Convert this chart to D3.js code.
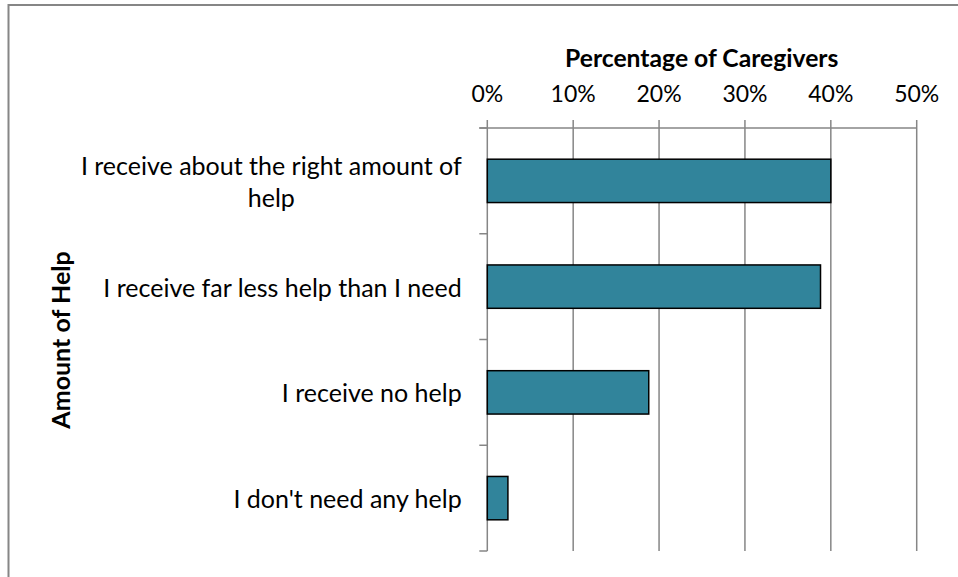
<!DOCTYPE html>
<html>
<head>
<meta charset="utf-8">
<script src="https://cdn.jsdelivr.net/npm/d3@7"></script>
<style>
  html, body { margin: 0; padding: 0; background: #fff; }
  svg { display: block; }
  text { font-family: Lato, "Open Sans", sans-serif; fill: #000; }
</style>
</head>
<body>
<svg id="chart" width="958" height="577"></svg>
<script>
// Survey answers, top to bottom
const categories = [
  "I receive about the right amount of help",
  "I receive far less help than I need",
  "I receive no help",
  "I don't need any help"
];
// Share of caregivers for each answer
const shares = [0.40, 0.388, 0.188, 0.024];
const xTicks = [0, 0.1, 0.2, 0.3, 0.4, 0.5];
const xTitle = "Percentage of Caregivers";
const yTitle = "Amount of Help";

const svg = d3.select("#chart");
const W = 958, H = 577;
const plot = { left: 487.3, right: 916.7, top: 128, bottom: 551 };
const gridColor = "#868686";
const labelSize = "25px";

svg.append("rect").attr("width", W).attr("height", H).attr("fill", "#fff");

// Chart frame (runs off the right and bottom edges)
svg.append("rect")
  .attr("x", 8.5).attr("y", 5)
  .attr("width", W + 20).attr("height", H + 20)
  .attr("fill", "none").attr("stroke", gridColor).attr("stroke-width", 2);

const x = d3.scaleLinear().domain([0, 0.5]).range([plot.left, plot.right]);
const y = d3.scaleBand().domain(categories)
  .range([plot.top, plot.bottom])
  .paddingInner(0.59).paddingOuter(0.295);

// Vertical gridlines with ticks poking above the top axis
svg.append("g").selectAll("line").data(xTicks).join("line")
  .attr("x1", d => x(d)).attr("x2", d => x(d))
  .attr("y1", plot.top - 8).attr("y2", plot.bottom)
  .attr("stroke", gridColor).attr("stroke-width", 1.5);

// Top axis line
svg.append("line")
  .attr("x1", plot.left - 8).attr("x2", x(0.5))
  .attr("y1", plot.top).attr("y2", plot.top)
  .attr("stroke", gridColor).attr("stroke-width", 1.5);

// Category axis ticks at band boundaries
const step = y.step();
const boundaries = d3.range(categories.length + 1).map(i => plot.top + i * step);
svg.append("g").selectAll("line").data(boundaries).join("line")
  .attr("x1", plot.left - 8).attr("x2", plot.left)
  .attr("y1", d => d).attr("y2", d => d)
  .attr("stroke", gridColor).attr("stroke-width", 1.5);

// Tick labels
svg.append("g").selectAll("text").data(xTicks).join("text")
  .attr("x", d => x(d)).attr("y", 93)
  .attr("text-anchor", "middle").attr("dominant-baseline", "central")
  .style("font-size", "23px")
  .text(d => d3.format(".0%")(d));

// Bars
svg.append("g").selectAll("rect").data(categories).join("rect")
  .attr("x", x(0))
  .attr("y", d => y(d))
  .attr("width", (d, i) => x(shares[i]) - x(0))
  .attr("height", y.bandwidth())
  .attr("fill", "#31849B")
  .attr("stroke", "#000").attr("stroke-width", 1.5);

// Category labels, wrapped to fit the label column
const labelRight = 461.7;
const maxLabelWidth = 390;
const labels = svg.append("g").style("font-size", labelSize);
categories.forEach((c, i) => {
  const t = labels.append("text")
    .attr("x", labelRight).attr("text-anchor", "end");
  const words = c.split(" ");
  const lines = [];
  let line = [];
  const probe = svg.append("text").style("font-size", labelSize);
  words.forEach(w => {
    const trial = line.concat(w).join(" ");
    probe.text(trial);
    if (probe.node().getComputedTextLength() > maxLabelWidth && line.length) {
      lines.push(line.join(" "));
      line = [w];
    } else {
      line.push(w);
    }
  });
  lines.push(line.join(" "));
  probe.remove();
  const cy = y(c) + y.bandwidth() / 2;
  const lh = 31.5;
  lines.forEach((l, j) => {
    t.append("tspan")
      .attr("x", labelRight)
      .attr("y", cy + (j - (lines.length - 1) / 2) * lh)
      .attr("dominant-baseline", "central")
      .text(l);
  });
  // Second line of a wrapped label is centered under the first
  if (lines.length > 1) {
    const first = t.select("tspan").node();
    const w0 = first.getComputedTextLength();
    t.selectAll("tspan").filter((d, j) => j > 0)
      .attr("x", labelRight - w0 / 2).attr("text-anchor", "middle");
  }
});

// Axis titles
svg.append("text")
  .attr("x", 701.7).attr("y", 57)
  .attr("text-anchor", "middle").attr("dominant-baseline", "central")
  .style("font-size", "24.7px").style("font-weight", "bold")
  .text(xTitle);

svg.append("text")
  .attr("transform", "translate(60,340) rotate(-90)")
  .attr("text-anchor", "middle").attr("dominant-baseline", "central")
  .style("font-size", "25px").style("font-weight", "bold")
  .text(yTitle);
</script>
</body>
</html>
